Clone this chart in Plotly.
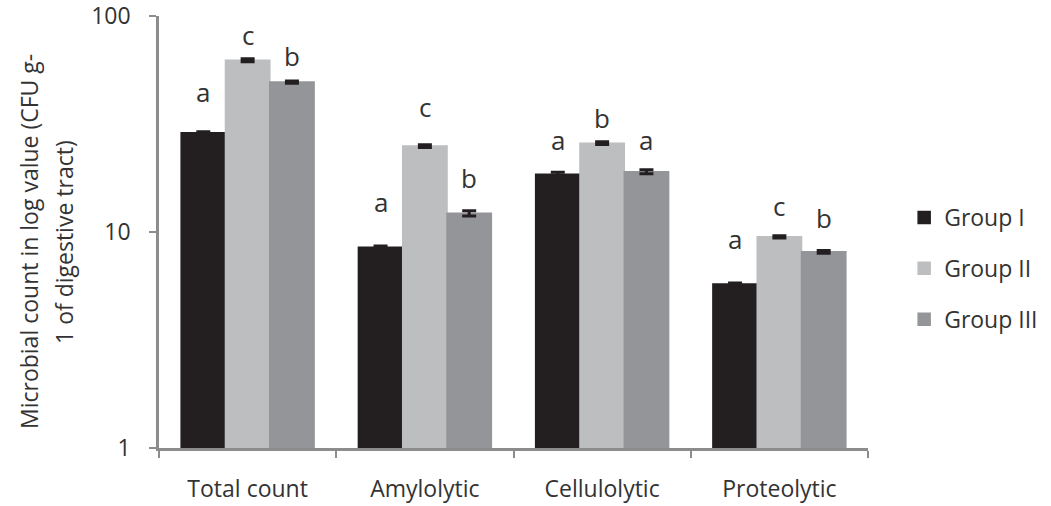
import numpy as np
import plotly.graph_objects as go

categories = ["Total count", "Amylolytic", "Cellulolytic", "Proteolytic"]
groups = ["Group I", "Group II", "Group III"]
group1 = [28.8, 8.5, 18.5, 5.75]
group2 = [62.5, 25.0, 25.8, 9.5]
group3 = [49.5, 12.2, 19.0, 8.1]
err1 = [0.3, 0.12, 0.4, 0.06]
err2 = [1.0, 0.35, 0.4, 0.12]
err3 = [0.6, 0.35, 0.4, 0.12]
letters1 = ["a", "a", "a", "a"]
letters2 = ["c", "c", "b", "c"]
letters3 = ["b", "b", "a", "b"]
y_tickvals = [1, 10, 100]
y_ticktext = ["1", "10", "100"]
y_title_lines = ["Microbial count in log value (CFU g-", "1 of digestive tract)"]

values = [group1, group2, group3]
errors = [err1, err2, err3]
letters = [letters1, letters2, letters3]
colors = ["#231f20", "#bcbec0", "#939598"]
letter_shift = [[40, 44, 32, 44], [24, 38, 24, 30], [25, 33, 30, 32]]

FONT = "Open Sans"
TXT = "#333333"
AX = "#8c8c8c"
W, H = 1051, 506
OFF = 0  # page body margin removed below
# plot area in page pixels: x 159..868, y 16..448
PL, PR, PT, PB = 159, 868, 16, 448
L, T = PL - OFF, PT - OFF
R, B = W - (PR - OFF), H - (PB - OFF)
plot_w = PR - PL
plot_h = PB - PT

fig = go.Figure()
for gi in range(3):
    fig.add_trace(go.Bar(
        x=categories, y=values[gi], name=groups[gi],
        marker=dict(color=colors[gi], line=dict(color=colors[gi], width=1.5)),
        error_y=dict(type="data", array=errors[gi], color="#231f20",
                     thickness=3, width=7),
        legendgroup=groups[gi],
    ))

bar_px = plot_w / 4 * 0.75 / 3
for gi in range(3):
    for ci, cat in enumerate(categories):
        fig.add_annotation(
            x=cat, y=np.log10(values[gi][ci] + errors[gi][ci]), xref="x", yref="y",
            text=letters[gi][ci], showarrow=False,
            xshift=(gi - 1) * bar_px, yshift=letter_shift[gi][ci],
            font=dict(family=FONT, size=26, color=TXT),
        )

for line, px in zip(y_title_lines, [29, 64]):
    fig.add_annotation(
        x=(px - PL) / plot_w, y=(PB - 242) / plot_h, xref="paper", yref="paper",
        text=line, showarrow=False, textangle=-90,
        xanchor="center", yanchor="middle",
        font=dict(family=FONT, size=23, color=TXT),
    )

fig.update_layout(
    width=W, height=H,
    margin=dict(l=L, r=R, t=T, b=B, autoexpand=False),
    paper_bgcolor="white", plot_bgcolor="white",
    barmode="group", bargap=0.25, bargroupgap=0,
    font=dict(family=FONT, size=23, color=TXT),
    showlegend=True,
    legend=dict(x=1.051, xanchor="left", y=0.4155, yanchor="middle",
                font=dict(family=FONT, size=23, color=TXT),
                tracegroupgap=18, bgcolor="rgba(0,0,0,0)"),
    xaxis=dict(showline=True, linecolor=AX, linewidth=2.5, automargin=False,
               ticks="outside", tickson="boundaries", ticklen=7,
               tickcolor=AX, tickwidth=2, showgrid=False,
               tickfont=dict(family=FONT, size=23, color=TXT),
               ticklabelstandoff=19),
    yaxis=dict(type="log", range=[-0.0005, 2.0005], showline=True, linecolor=AX,
               linewidth=2.5, ticks="outside", ticklen=7, tickcolor=AX,
               tickwidth=2, showgrid=False, zeroline=False, automargin=False,
               tickvals=y_tickvals, ticktext=y_ticktext,
               tickfont=dict(family=FONT, size=23, color=TXT),
               ticklabeloverflow="allow", ticklabelstandoff=14),
)

fig.write_html("out.html", config={"displayModeBar": False},
               post_script="document.body.style.margin='0';")
